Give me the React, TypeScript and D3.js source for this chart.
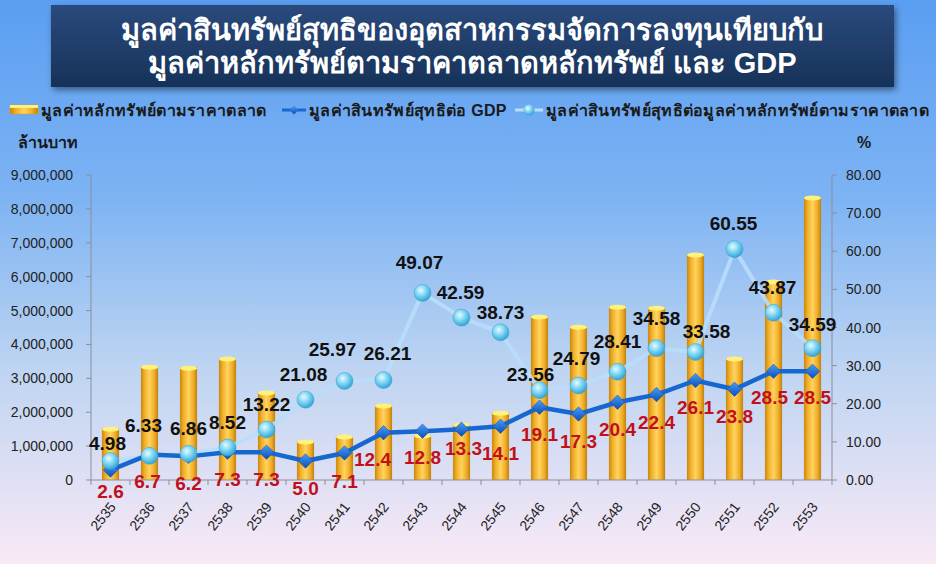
import React from "react";
import * as d3 from "d3";

// years (Buddhist era)
const years = [
  "2535", "2536", "2537", "2538", "2539", "2540", "2541", "2542", "2543", "2544",
  "2545", "2546", "2547", "2548", "2549", "2550", "2551", "2552", "2553",
];
// market capitalisation, million baht
const marketValue = [
  1530000, 3360000, 3330000, 3600000, 2600000, 1150000, 1300000, 2210000, 1330000, 1650000,
  2000000, 4840000, 4540000, 5130000, 5100000, 6670000, 3600000, 5870000, 8350000,
];
// net asset value / GDP (%)
const gdpRatio = [2.6, 6.7, 6.2, 7.3, 7.3, 5.0, 7.1, 12.4, 12.8, 13.3, 14.1, 19.1, 17.3, 20.4, 22.4, 26.1, 23.8, 28.5, 28.5];
// net asset value / market capitalisation (%)
const marketRatio = [4.98, 6.33, 6.86, 8.52, 13.22, 21.08, 25.97, 26.21, 49.07, 42.59, 38.73, 23.56, 24.79, 28.41, 34.58, 33.58, 60.55, 43.87, 34.59];

const leftTicks = [0, 1000000, 2000000, 3000000, 4000000, 5000000, 6000000, 7000000, 8000000, 9000000];
const rightTicks = [0, 10, 20, 30, 40, 50, 60, 70, 80];

const titleLines = [
  "มูลค่าสินทรัพย์สุทธิของอุตสาหกรรมจัดการลงทุนเทียบกับ",
  "มูลค่าหลักทรัพย์ตามราคาตลาดหลักทรัพย์ และ GDP",
];
const legendLabels = [
  "มูลค่าหลักทรัพย์ตามราคาตลาด",
  "มูลค่าสินทรัพย์สุทธิต่อ GDP",
  "มูลค่าสินทรัพย์สุทธิต่อมูลค่าหลักทรัพย์ตามราคาตลาด",
];

// hand placed label nudges (px), like the manual placements in the original
const blackNudge: [number, number][] = [
  [-3, 8], [-6, -5], [0, 0], [0, 0], [0, 0], [-2, 0], [-12, -6], [4, -1], [-3, -5], [-1, 0],
  [0, 6], [-9, 10], [-2, -1], [0, -5], [0, -4], [11, 5], [-1, 0], [-1, 0], [0, 2],
];
const redNudge: [number, number][] = [
  [0, -6], [-2, 0], [0, 0], [0, 0], [0, 0], [0, 0], [0, 1], [-11, -1], [0, -1], [2, -8],
  [0, 0], [0, 0], [0, 0], [0, 0], [0, 0], [0, 0], [0, 0], [-4, -1], [0, -1],
];

const W = 936;
const H = 564;
const margin = { left: 91, right: 104, top: 175, bottom: 84 };
const FONT = "Tahoma, 'Liberation Sans', 'Noto Sans', sans-serif";

export default function App() {
  const x = d3
    .scaleBand<string>()
    .domain(years)
    .range([margin.left, W - margin.right])
    .paddingInner(0.56)
    .paddingOuter(0.28);
  const yL = d3.scaleLinear().domain([0, 9000000]).range([H - margin.bottom, margin.top]);
  const yR = d3.scaleLinear().domain([0, 80]).range([H - margin.bottom, margin.top]);
  const cx = (d: string) => (x(d) as number) + x.bandwidth() / 2;
  const step = x.step();
  const x0 = margin.left;
  const x1 = W - margin.right;
  const yBase = H - margin.bottom;

  const ratioLine = d3
    .line<number>()
    .x((_, i) => cx(years[i]))
    .y((d) => yR(d));
  const diamond = d3.symbol(d3.symbolSquare, 105)();
  const fmtL = d3.format(",");

  return (
    <svg
      width={W}
      height={H}
      style={{ position: "absolute", left: 0, top: 0, display: "block" }}
      fontFamily={FONT}
    >
      <defs>
        <linearGradient id="bg" x1="0" y1="0" x2="0" y2="1">
          <stop offset="0%" stopColor="#5a9ef2" />
          <stop offset="35%" stopColor="#7db3f3" />
          <stop offset="65%" stopColor="#bdd4f2" />
          <stop offset="100%" stopColor="#f9e9f6" />
        </linearGradient>
        <linearGradient id="titleBg" x1="0" y1="0" x2="0" y2="1">
          <stop offset="0%" stopColor="#2a4a7c" />
          <stop offset="100%" stopColor="#173259" />
        </linearGradient>
        <linearGradient id="bar" x1="0" y1="0" x2="1" y2="0">
          <stop offset="0%" stopColor="#c8870e" />
          <stop offset="22%" stopColor="#f2b02a" />
          <stop offset="50%" stopColor="#ffd35e" />
          <stop offset="78%" stopColor="#f2ae28" />
          <stop offset="100%" stopColor="#bf800e" />
        </linearGradient>
        <radialGradient id="ball" cx="0.4" cy="0.35" r="0.7">
          <stop offset="0%" stopColor="#e8fbff" />
          <stop offset="45%" stopColor="#7fd6f4" />
          <stop offset="100%" stopColor="#2a9bcf" />
        </radialGradient>
        <linearGradient id="dia" x1="0" y1="0" x2="1" y2="1">
          <stop offset="0%" stopColor="#4a9cf5" />
          <stop offset="100%" stopColor="#0b4fb8" />
        </linearGradient>
        <filter id="shadow" x="-10%" y="-10%" width="120%" height="140%">
          <feDropShadow dx="2" dy="3" stdDeviation="3" floodColor="#000" floodOpacity="0.45" />
        </filter>
      </defs>

      <rect x={0} y={0} width={W} height={H} fill="url(#bg)" />

      {/* title */}
      <rect x={51} y={5} width={843} height={82} fill="url(#titleBg)" filter="url(#shadow)" />
      {titleLines.map((t, i) => (
        <text
          key={t}
          x={472}
          y={40 + i * 33}
          textAnchor="middle"
          fill="#ffffff"
          fontSize={29}
          fontWeight="bold"
        >
          {t}
        </text>
      ))}

      {/* legend */}
      <g fontSize={16} fontWeight="bold" fill="#1a1a1a" letterSpacing={0.3}>
        <rect x={10} y={105} width={28} height={9} fill="url(#bar)" stroke="#d9a020" strokeWidth={0.5} />
        <rect x={10} y={105} width={28} height={3} fill="#fff27a" />
        <text x={41} y={116}>{legendLabels[0]}</text>
        <line x1={282} x2={306} y1={110} y2={110} stroke="#1668d0" strokeWidth={3} />
        <path d={d3.symbol(d3.symbolSquare, 40)() as string} transform="translate(294,110) rotate(45)" fill="url(#dia)" />
        <text x={309} y={116}>{legendLabels[1]}</text>
        <line x1={515} x2={543} y1={110} y2={110} stroke="#b8defa" strokeWidth={3} />
        <circle cx={529} cy={110} r={5.5} fill="url(#ball)" />
        <text x={546} y={116}>{legendLabels[2]}</text>
      </g>

      {/* axis titles */}
      <text x={18} y={148} fontSize={16} fontWeight="bold" fill="#1a1a1a">ล้านบาท</text>
      <text x={857} y={148} fontSize={16} fontWeight="bold" fill="#1a1a1a">%</text>

      {/* left axis */}
      <g fontSize={14} fill="#222">
        <line x1={x0} x2={x0} y1={margin.top} y2={yBase} stroke="#8a8f99" />
        {leftTicks.map((t) => (
          <g key={t}>
            <line x1={x0 - 5} x2={x0} y1={yL(t)} y2={yL(t)} stroke="#8a8f99" />
            <text x={x0 - 18} y={yL(t) + 5} textAnchor="end">
              {fmtL(t)}
            </text>
          </g>
        ))}
      </g>

      {/* right axis */}
      <g fontSize={14} fill="#222">
        <line x1={x1} x2={x1} y1={margin.top} y2={yBase} stroke="#8a8f99" />
        {rightTicks.map((t) => (
          <g key={t}>
            <line x1={x1} x2={x1 + 5} y1={yR(t)} y2={yR(t)} stroke="#8a8f99" />
            <text x={x1 + 14} y={yR(t) + 5}>
              {t.toFixed(2)}
            </text>
          </g>
        ))}
      </g>

      {/* bars */}
      {years.map((yr, i) => {
        const bx = x(yr) as number;
        const by = yL(marketValue[i]);
        const bw = x.bandwidth();
        return (
          <g key={yr}>
            <rect x={bx} y={by} width={bw} height={yBase - by} fill="url(#bar)" />
            <ellipse cx={bx + bw / 2} cy={by + 1} rx={bw / 2} ry={2.5} fill="#fff27a" />
          </g>
        );
      })}

      {/* bottom axis */}
      <g>
        <line x1={x0} x2={x1} y1={yBase} y2={yBase} stroke="#8a8f99" />
        {years.map((yr, i) => (
          <line
            key={yr}
            x1={x0 + i * step}
            x2={x0 + i * step}
            y1={yBase}
            y2={yBase + 5}
            stroke="#8a8f99"
          />
        ))}
        <line x1={x1} x2={x1} y1={yBase} y2={yBase + 5} stroke="#8a8f99" />
        {years.map((yr) => (
          <text
            key={yr}
            transform={`translate(${cx(yr) + 6},${yBase + 27}) rotate(-52)`}
            textAnchor="end"
            fontSize={14}
            fill="#222"
          >
            {yr}
          </text>
        ))}
      </g>

      {/* market ratio line */}
      <path
        d={ratioLine(marketRatio) as string}
        fill="none"
        stroke="#b8defb"
        strokeOpacity={0.9}
        strokeWidth={4}
        strokeLinejoin="round"
      />
      {/* GDP ratio line */}
      <path
        d={ratioLine(gdpRatio) as string}
        fill="none"
        stroke="#1668d0"
        strokeWidth={4.5}
        strokeLinejoin="round"
      />
      {gdpRatio.map((v, i) => (
        <path
          key={years[i]}
          d={diamond as string}
          transform={`translate(${cx(years[i])},${yR(v)}) rotate(45)`}
          fill="url(#dia)"
          stroke="#0b4fb8"
          strokeWidth={0.5}
        />
      ))}
      {marketRatio.map((v, i) => (
        <circle
          key={years[i]}
          cx={cx(years[i])}
          cy={yR(v)}
          r={8.5}
          fill="url(#ball)"
          stroke="#3aa0d0"
          strokeWidth={0.5}
        />
      ))}

      {/* data labels */}
      <g fontSize={19} fontWeight="bold" textAnchor="middle">
        {gdpRatio.map((v, i) => (
          <text
            key={years[i]}
            x={cx(years[i]) + redNudge[i][0]}
            y={yR(v) + 34 + redNudge[i][1]}
            fill="#c0101c"
          >
            {v.toFixed(1)}
          </text>
        ))}
        {marketRatio.map((v, i) => (
          <text
            key={years[i]}
            x={cx(years[i]) + blackNudge[i][0]}
            y={yR(v) - 19 + blackNudge[i][1]}
            fill="#111"
          >
            {v.toFixed(2)}
          </text>
        ))}
      </g>
    </svg>
  );
}
